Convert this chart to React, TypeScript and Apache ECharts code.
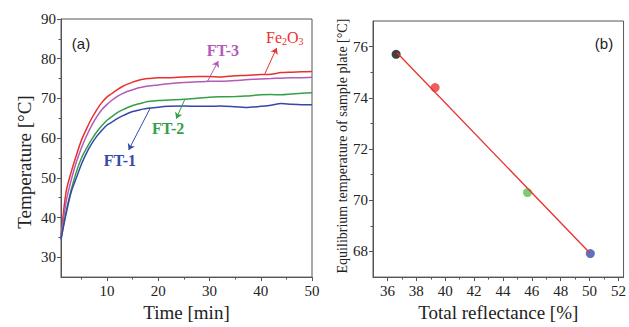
import React, { useEffect, useRef } from "react";
import * as echarts from "echarts";

const time = [1, 2, 3, 4, 5, 6, 7, 8, 9, 10, 11, 12, 13, 14, 15, 16, 17, 18, 20, 22, 25, 28, 30, 32, 35, 37, 40, 42, 44, 46, 48, 50];
const fe2o3 = [35, 46.5, 51.5, 55.7, 59.5, 62.4, 65, 67.2, 69, 70.4, 71.3, 72.2, 73, 73.6, 74.1, 74.5, 74.8, 75, 75.2, 75.2, 75.4, 75.5, 75.5, 75.4, 75.7, 75.8, 76, 76.1, 76.5, 76.6, 76.7, 76.8];
const ft3 = [34.8, 44, 49.5, 54, 57.6, 60.6, 63.2, 65.4, 67.2, 68.5, 69.6, 70.5, 71.2, 71.8, 72.2, 72.6, 72.9, 73.1, 73.4, 73.7, 74, 74.2, 74.3, 74.3, 74.5, 74.7, 74.9, 75, 75.1, 75.2, 75.2, 75.3];
const ft2 = [34.5, 41.5, 47, 51.5, 55, 57.5, 59.7, 61.6, 63.2, 64.5, 65.5, 66.4, 67.1, 67.7, 68.2, 68.6, 68.9, 69.2, 69.5, 69.6, 69.8, 70.1, 70.3, 70.4, 70.5, 70.6, 70.9, 71, 70.9, 71.1, 71.3, 71.4];
const ft1 = [34.5, 41, 46.5, 50, 53.5, 56.3, 58.6, 60.5, 62, 63.3, 64.1, 64.9, 65.6, 66.2, 66.7, 67, 67.3, 67.5, 67.8, 68, 68.1, 68, 68, 68.1, 67.9, 67.7, 68, 68.3, 68.7, 68.5, 68.4, 68.4];

const timeTicks = [10, 20, 30, 40, 50];
const timeMinor = [5, 15, 25, 35, 45];
const tempTicks = [30, 40, 50, 60, 70, 80, 90];
const tempMinor = [35, 45, 55, 65, 75, 85];

const reflectance = [36.6, 39.3, 45.7, 50.05];
const eqTemp = [75.7, 74.4, 70.3, 67.92];
const pointColors = ["#111111", "#ee3333", "#5cbf4a", "#3a4db0"];
const fitX = [36.66, 50.0];
const fitY = [75.76, 67.95];
const reflTicks = [36, 38, 40, 42, 44, 46, 48, 50, 52];
const reflMinor = [37, 39, 41, 43, 45, 47, 49, 51];
const eqTicks = [68, 70, 72, 74, 76];
const eqMinor = [69, 71, 73, 75];

const SERIF = "Liberation Serif";
const SANS = "Liberation Sans";
const AX = "#555";
const TXT = "#222";

function makeAxis(opts: any) {
  const { gridIndex, min, max, ticks, name, nameGap, fontSize, nameSize, margin, position, namePadding } = opts;
  return {
    type: "value",
    gridIndex,
    min,
    max,
    position,
    name,
    nameLocation: "middle",
    nameGap,
    nameTextStyle: { fontFamily: SERIF, fontSize: nameSize, color: TXT, padding: namePadding || 0 },
    axisLine: { show: true, lineStyle: { color: AX, width: 1 } },
    axisTick: { show: true, inside: false, length: 4, customValues: ticks, lineStyle: { color: AX } },
    axisLabel: { show: true, customValues: ticks, margin, fontFamily: SERIF, fontSize, color: TXT },
    splitLine: { show: false },
  };
}

function minorAxis(gridIndex: number, min: number, max: number, ticks: number[], position: string) {
  return {
    type: "value",
    gridIndex,
    min,
    max,
    position,
    axisLine: { show: false },
    axisTick: { show: true, inside: false, length: 2.5, customValues: ticks, lineStyle: { color: AX } },
    axisLabel: { show: false },
    splitLine: { show: false },
  };
}

function arrow(color: string, from: number[], to: number[]) {
  return {
    silent: true,
    symbol: ["none", "arrow"],
    symbolSize: 6,
    label: { show: false },
    lineStyle: { color, width: 1, type: "solid" },
    data: [[{ coord: from }, { coord: to }]],
  };
}

function tag(color: string, at: number[], text: string) {
  return {
    silent: true,
    symbolSize: 0,
    data: [{ coord: at }],
    label: {
      show: true,
      position: "inside",
      formatter: text,
      fontFamily: SERIF,
      fontSize: 16,
      fontWeight: 600,
      color,
      rich: {
        n: { fontFamily: SERIF, fontSize: 16, fontWeight: 500, color, lineHeight: 18, verticalAlign: "middle" },
        s: { fontFamily: SERIF, fontSize: 10, fontWeight: 500, color, lineHeight: 10, verticalAlign: "bottom" },
      },
    },
  };
}

function curve(name: string, values: number[], color: string, arrowFrom: number[], arrowTo: number[], labelAt: number[], text: string) {
  return {
    name,
    type: "line",
    xAxisIndex: 0,
    yAxisIndex: 0,
    showSymbol: false,
    smooth: 0.3,
    data: time.map((t, i) => [t, values[i]]),
    lineStyle: { color, width: 1.5 },
    itemStyle: { color },
    markLine: arrow(color, arrowFrom, arrowTo),
    markPoint: tag(color, labelAt, text),
  };
}

export default function App() {
  const ref = useRef<HTMLDivElement>(null);
  useEffect(() => {
    if (!ref.current) return;
    const chart = echarts.init(ref.current, null, { renderer: "svg" });
    chart.setOption({
      animation: false,
      backgroundColor: "#fff",
      grid: [
        { left: 61, top: 19, width: 251, height: 262, show: true, borderColor: AX, borderWidth: 1 },
        { left: 373, top: 21, width: 254, height: 261, show: true, borderColor: AX, borderWidth: 1 },
      ],
      xAxis: [
        makeAxis({ gridIndex: 0, min: 1, max: 50, ticks: timeTicks, name: "Time [min]", nameGap: 25, fontSize: 15, nameSize: 19, margin: 6, position: "bottom" }),
        minorAxis(0, 1, 50, timeMinor, "bottom"),
        makeAxis({ gridIndex: 1, min: 35, max: 52.35, ticks: reflTicks, name: "Total reflectance [%]", nameGap: 25, fontSize: 15, nameSize: 19, margin: 6, position: "bottom" }),
        minorAxis(1, 35, 52.35, reflMinor, "bottom"),
      ],
      yAxis: [
        makeAxis({ gridIndex: 0, min: 25, max: 90, ticks: tempTicks, name: "Temperature [°C]", nameGap: 27, fontSize: 15, nameSize: 19, margin: 5, position: "left", namePadding: [0, 28, 0, 0] }),
        minorAxis(0, 25, 90, tempMinor, "left"),
        makeAxis({ gridIndex: 1, min: 67, max: 77, ticks: eqTicks, name: "Equilibrium temperature of sample plate [°C]", nameGap: 23, fontSize: 15, nameSize: 14, margin: 5, position: "left", namePadding: [0, 0, 0, 6] }),
        minorAxis(1, 67, 77, eqMinor, "left"),
      ],
      graphic: [
        { type: "text", x: 81, y: 43, style: { text: "(a)", fontFamily: SANS, fontSize: 15, fill: TXT, align: "center", verticalAlign: "middle" } },
        { type: "text", x: 604, y: 43, style: { text: "(b)", fontFamily: SANS, fontSize: 15, fill: TXT, align: "center", verticalAlign: "middle" } },
      ],
      series: [
        curve("Fe2O3", fe2o3, "#e8302c", [40.8, 76.2], [43.1, 82.7], [44.7, 85.4], "{n|Fe}{s|2}{n|O}{s|3}"),
        curve("FT-3", ft3, "#b35ab9", [29.6, 74.3], [31.7, 79.4], [32.6, 82.0], "FT-3"),
        curve("FT-2", ft2, "#33a048", [25.2, 69.85], [23.5, 64.9], [21.9, 62.4], "FT-2"),
        curve("FT-1", ft1, "#3548a8", [18.4, 67.5], [14.2, 57.0], [12.5, 54.3], "FT-1"),
        {
          name: "fit",
          type: "line",
          xAxisIndex: 2,
          yAxisIndex: 2,
          showSymbol: false,
          data: fitX.map((x, i) => [x, fitY[i]]),
          lineStyle: { color: "#e8302c", width: 1.3 },
        },
        {
          name: "points",
          type: "scatter",
          xAxisIndex: 2,
          yAxisIndex: 2,
          symbolSize: 9,
          data: reflectance.map((x, i) => ({ value: [x, eqTemp[i]], itemStyle: { color: pointColors[i] } })),
        },
      ],
    });
    return () => chart.dispose();
  }, []);
  return <div ref={ref} style={{ position: "fixed", left: 0, top: 0, width: 629, height: 327 }} />;
}
